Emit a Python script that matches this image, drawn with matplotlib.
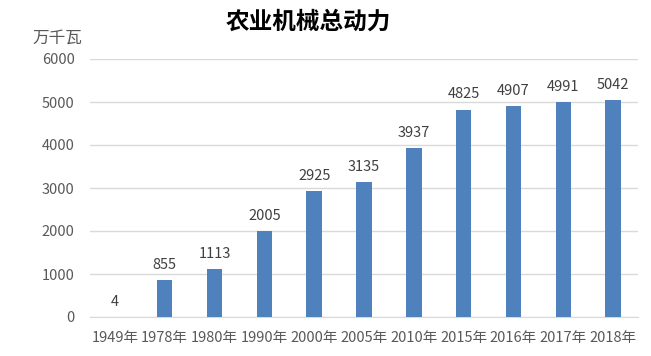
import matplotlib
matplotlib.use("Agg")
import matplotlib.pyplot as plt

plt.rcParams['font.family'] = ['Noto Sans CJK SC', 'DejaVu Sans']

categories = ["1949年", "1978年", "1980年", "1990年", "2000年", "2005年",
              "2010年", "2015年", "2016年", "2017年", "2018年"]
values = [4, 855, 1113, 2005, 2925, 3135, 3937, 4825, 4907, 4991, 5042]
yticks = [0, 1000, 2000, 3000, 4000, 5000, 6000]

fig = plt.figure(figsize=(6.51, 3.56), dpi=100)
ax = fig.add_axes([90/651, (356-317)/356, (638-90)/651, (317-59)/356])

x = list(range(len(categories)))
bars = ax.bar(x, values, width=0.31, color="#4F81BD", zorder=3)
for xi, v in zip(x, values):
    ax.text(xi, v + 190, str(v), ha="center", va="bottom", fontsize=10.5, color="#404040")

ax.set_xlim(-0.5, len(categories) - 0.5)
ax.set_ylim(0, 6000)
ax.set_yticks(yticks)
ax.set_yticklabels([str(t) for t in yticks], fontsize=10.5, color="#595959")
ax.set_xticks(x)
ax.set_xticklabels(categories, fontsize=10.5, color="#595959")
ax.tick_params(axis="both", length=0)
ax.tick_params(axis="y", pad=11)
ax.tick_params(axis="x", pad=10)
ax.yaxis.grid(True, color="#D9D9D9", linewidth=1, zorder=0)
for s in ["top", "right", "left"]:
    ax.spines[s].set_visible(False)
ax.spines["bottom"].set_color("#D9D9D9")

fig.text(308/651, 1 - 22/356, "农业机械总动力", ha="center", va="center",
         fontsize=17, fontweight="bold", color="#000000")
fig.text(57/651, 1 - 38/356, "万千瓦", ha="center", va="center",
         fontsize=12, color="#595959")

fig.savefig("out.png", dpi=100)
